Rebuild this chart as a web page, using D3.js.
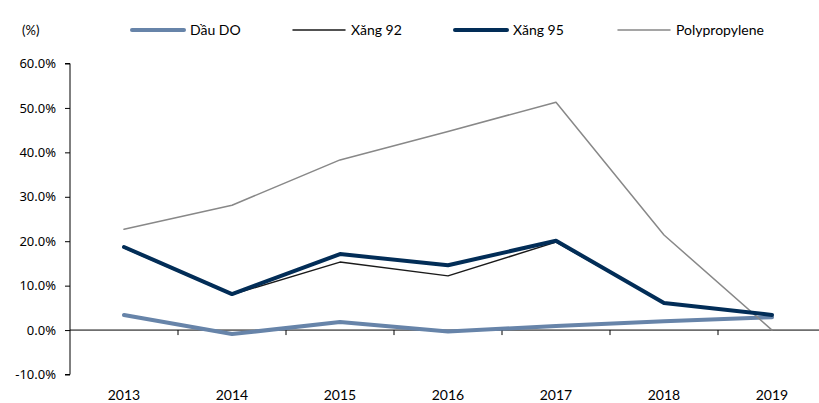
<!DOCTYPE html>
<html lang="vi">
<head>
<meta charset="utf-8">
<title>Line chart</title>
<script src="https://cdn.jsdelivr.net/npm/d3@7"></script>
<style>
  body { margin: 0; background: #fff; }
  text { fill: #000; }
</style>
</head>
<body>
<script>
var years = ["2013", "2014", "2015", "2016", "2017", "2018", "2019"];
var dauDO = [3.4, -0.9, 1.8, -0.3, 0.9, 2.0, 2.9];
var xang92 = [18.5, 8.0, 15.3, 12.2, 19.8, 6.1, 3.4];
var xang95 = [18.7, 8.1, 17.1, 14.6, 20.1, 6.1, 3.4];
var polypropylene = [22.7, 28.1, 38.3, 44.7, 51.3, 21.4, 0.0];
var yTicks = [-10, 0, 10, 20, 30, 40, 50, 60];

var w = 819, h = 403;
var series = [
  {name: "Dầu DO", values: dauDO, color: "#6784a9", width: 4, lx: 132},
  {name: "Xăng 92", values: xang92, color: "#1a1a1a", width: 1.5, lx: 293},
  {name: "Xăng 95", values: xang95, color: "#022d57", width: 4, lx: 455},
  {name: "Polypropylene", values: polypropylene, color: "#888888", width: 1.5, lx: 618}
];
// draw order: DO, Polypropylene, 92, 95 on top
var drawOrder = [series[0], series[3], series[1], series[2]];

var svg = d3.select("body").append("svg").attr("width", w).attr("height", h);

var x = d3.scaleBand().domain(years).range([70, 826]);
var y = d3.scaleLinear().domain([-10, 60]).range([374.5, 63.5]);

// y axis
var yAxis = svg.append("g").attr("transform", "translate(70,0)")
  .call(d3.axisLeft(y).tickValues(yTicks).tickSize(5).tickPadding(9)
    .tickFormat(function(d){ return d.toFixed(1) + "%"; }));
yAxis.select(".domain").attr("d", "M-5," + y(60) + "H0V" + y(-10) + "H-5");
yAxis.selectAll("text").style("font-family", "Noto Sans").style("font-size", "13px");

// x axis along zero
var xAxis = svg.append("g").attr("transform", "translate(0," + y(0) + ")")
  .call(d3.axisBottom(x).tickSize(0).tickFormat(""));
xAxis.select(".domain").attr("d", "M70,0H" + w);
svg.append("g").selectAll("line").data(years.slice(1)).enter().append("line")
  .attr("x1", function(d){ return x(d); }).attr("x2", function(d){ return x(d); })
  .attr("y1", y(0)).attr("y2", y(0) + 5).attr("stroke", "#000");

svg.append("g").selectAll("text").data(years).enter().append("text")
  .attr("x", function(d){ return x(d) + x.bandwidth() / 2; })
  .attr("y", 400).attr("text-anchor", "middle")
  .style("font-family", "Lato").style("font-size", "14px")
  .text(function(d){ return d; });

var line = d3.line()
  .x(function(d, i){ return x(years[i]) + x.bandwidth() / 2; })
  .y(function(d){ return y(d); });

svg.append("g").selectAll("path").data(drawOrder).enter().append("path")
  .attr("d", function(s){ return line(s.values); })
  .attr("fill", "none")
  .attr("stroke", function(s){ return s.color; })
  .attr("stroke-width", function(s){ return s.width; })
  .attr("stroke-linejoin", "round")
  .attr("stroke-linecap", "round");

// unit label
svg.append("text").attr("x", 22).attr("y", 35)
  .style("font-family", "Lato").style("font-size", "13px").text("(%)");

// legend
var lg = svg.append("g").selectAll("g").data(series).enter().append("g");
lg.append("line")
  .attr("x1", function(s){ return s.lx; }).attr("x2", function(s){ return s.lx + 52; })
  .attr("y1", 30).attr("y2", 30)
  .attr("stroke", function(s){ return s.color; })
  .attr("stroke-width", function(s){ return s.width; })
  .attr("stroke-linecap", "round");
lg.append("text")
  .attr("x", function(s){ return s.lx + 58; }).attr("y", 35)
  .style("font-family", "Lato").style("font-size", "14px")
  .text(function(s){ return s.name; });
</script>
</body>
</html>
